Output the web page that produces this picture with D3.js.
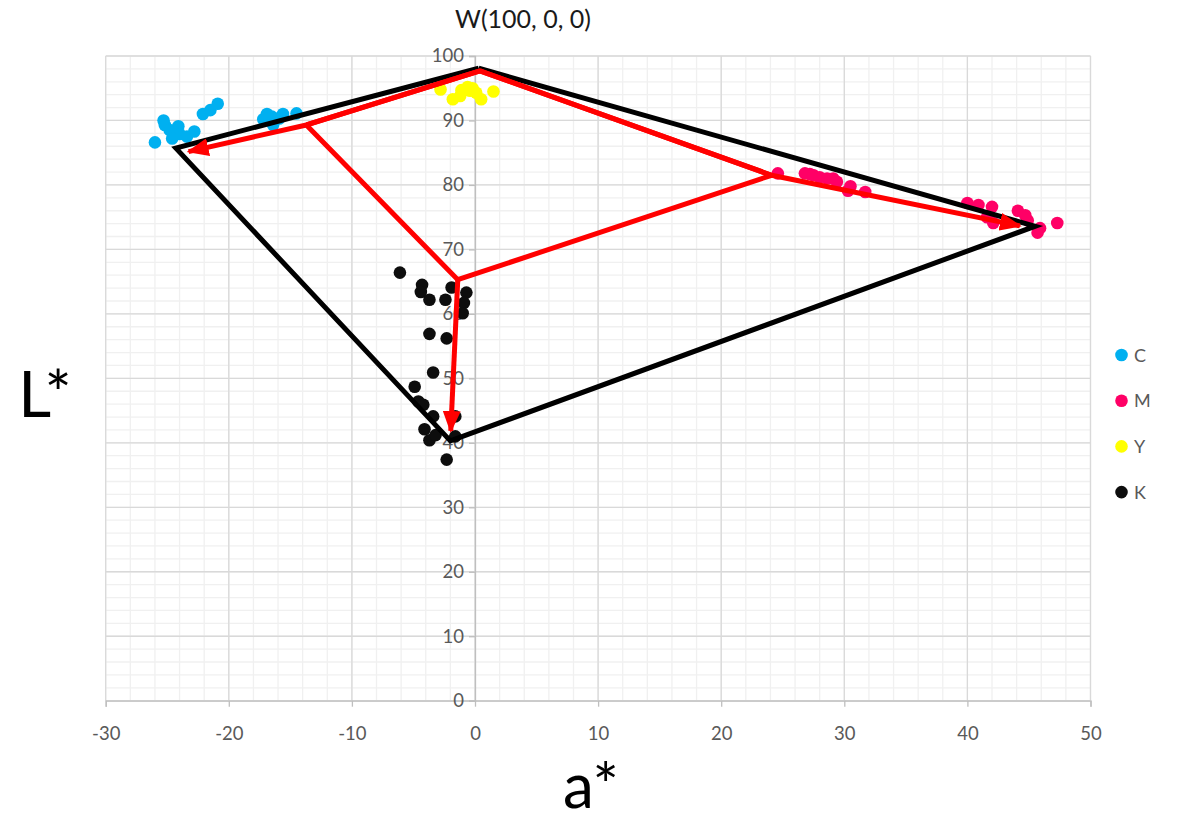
<!DOCTYPE html>
<html>
<head>
<meta charset="utf-8">
<script src="https://cdn.jsdelivr.net/npm/d3@7"></script>
<style>
  html, body { margin: 0; padding: 0; background: #fff; }
  svg { display: block; font-family: Lato, "Open Sans", sans-serif; }
</style>
</head>
<body>
<svg id="chart" width="1187" height="827"></svg>
<script>
// Measured samples, [a*, L*]
const cyan = [[-26.0,86.6],[-25.3,90.0],[-25.2,89.3],[-24.8,88.5],[-24.1,89.1],[-24.0,87.9],[-24.6,87.2],
  [-23.4,87.5],[-22.8,88.3],[-22.1,91.0],[-21.5,91.6],[-20.9,92.6],[-17.2,90.2],[-16.5,90.6],[-16.4,89.3],
  [-16.9,91.0],[-15.9,90.3],[-15.6,91.0],[-14.5,91.1]];
const magenta = [[24.6,81.8],[26.8,81.8],[27.2,81.7],[27.5,81.5],[28.0,81.2],[28.6,81.0],[29.1,81.0],
  [29.4,80.5],[30.5,79.8],[30.3,79.1],[31.7,78.9],[40.0,77.2],[40.9,76.9],[42.0,76.6],[42.1,74.1],
  [41.6,75.0],[44.1,76.0],[44.7,75.3],[44.9,74.5],[45.9,73.3],[45.7,72.6],[47.3,74.1]];
const yellow = [[-2.8,94.8],[-1.8,93.3],[-1.2,93.8],[-1.1,94.7],[-0.6,95.2],[-0.2,95.0],[0.1,94.3],
  [0.5,93.3],[1.5,94.5],[-0.4,94.6]];
const black = [[-6.1,66.4],[-4.3,64.5],[-4.4,63.4],[-3.7,62.2],[-2.4,62.2],[-1.9,64.1],[-0.7,63.3],
  [-0.9,61.7],[-1.0,60.1],[-3.7,56.9],[-2.3,56.2],[-3.4,50.9],[-4.9,48.7],[-4.6,46.4],[-4.2,45.9],
  [-3.4,44.1],[-1.6,44.1],[-4.1,42.1],[-3.7,40.4],[-3.2,41.2],[-1.6,41.0],[-2.3,37.4]];

const seriesNames = ["C", "M", "Y", "K"];
const seriesColors = ["#00B0F0", "#FF0066", "#FFFF00", "#0d0d0d"];
const seriesData = [cyan, magenta, yellow, black];

// Gamut outline: W -> M -> K -> C -> W
const gamut = [[0.3,98.1],[45.5,73.6],[-2.0,40.3],[-24.3,85.7],[0.3,98.1]];
// Hue paths from white, bending at the midtone patches
const arrowWC = [[0.4,97.7],[-13.7,89.3],[-23.9,84.9]];
const arrowWM = [[0.4,97.7],[24.1,81.5],[44.9,73.4]];
// Inner frame joining the midtone patches to the grey point
const frame = [[-13.7,89.3],[-1.4,65.3],[24.1,81.5]];
const arrowK = [[-1.4,65.3],[-2.0,40.6]];

const xTicks = [-30,-20,-10,0,10,20,30,40,50];
const yTicks = [0,10,20,30,40,50,60,70,80,90,100];

const svg = d3.select("#chart");
const x = d3.scaleLinear().domain([-30, 50]).range([105.7, 1090.5]);
const y = d3.scaleLinear().domain([0, 100]).range([700.7, 56]);

// Grid
const grid = svg.append("g");
grid.selectAll("line.vminor").data(d3.range(-30, 50.01, 2)).join("line")
  .attr("x1", d => x(d)).attr("x2", d => x(d)).attr("y1", y(0)).attr("y2", y(100))
  .attr("stroke", "#f0f0f0").attr("stroke-width", 1.3);
grid.selectAll("line.hminor").data(d3.range(0, 100.01, 2)).join("line")
  .attr("y1", d => y(d)).attr("y2", d => y(d)).attr("x1", x(-30)).attr("x2", x(50))
  .attr("stroke", "#f0f0f0").attr("stroke-width", 1.3);
grid.selectAll("line.vmajor").data(xTicks).join("line")
  .attr("x1", d => x(d)).attr("x2", d => x(d)).attr("y1", y(0)).attr("y2", y(100))
  .attr("stroke", "#d9d9d9").attr("stroke-width", 1.3);
grid.selectAll("line.hmajor").data(yTicks).join("line")
  .attr("y1", d => y(d)).attr("y2", d => y(d)).attr("x1", x(-30)).attr("x2", x(50))
  .attr("stroke", "#d9d9d9").attr("stroke-width", 1.3);

// Axes
const fmt = d => String(d);
const xAxis = svg.append("g").attr("transform", `translate(0,${y(0)})`)
  .call(d3.axisBottom(x).tickValues(xTicks).tickFormat(fmt).tickSize(6).tickPadding(20));
const yAxis = svg.append("g").attr("transform", `translate(${x(0)},0)`)
  .call(d3.axisLeft(y).tickValues(yTicks).tickFormat(fmt).tickSize(6).tickPadding(5));
[xAxis, yAxis].forEach(g => {
  g.select(".domain").attr("stroke", "#bfbfbf").attr("stroke-width", 1.3);
  g.selectAll(".tick line").attr("stroke", "#bfbfbf").attr("stroke-width", 1.3);
  g.selectAll(".tick text").attr("fill", "#595959").attr("font-size", 18.5)
    .attr("font-family", "Lato, 'Open Sans', sans-serif");
});

// Sample points
const pts = svg.append("g");
seriesData.forEach((data, i) => {
  pts.append("g").selectAll("circle").data(data).join("circle")
    .attr("cx", d => x(d[0])).attr("cy", d => y(d[1])).attr("r", 6.3)
    .attr("fill", seriesColors[i]);
});

// Arrowhead
svg.append("defs").append("marker")
  .attr("id", "arrowhead").attr("markerUnits", "userSpaceOnUse")
  .attr("viewBox", "0 0 22 18").attr("refX", 20).attr("refY", 9)
  .attr("markerWidth", 22).attr("markerHeight", 18).attr("orient", "auto")
  .append("path").attr("d", "M0,0 L22,9 L0,18 Z").attr("fill", "#ff0000");

const line = d3.line().x(d => x(d[0])).y(d => y(d[1]));

svg.append("path").attr("d", line(gamut)).attr("fill", "none")
  .attr("stroke", "#000").attr("stroke-width", 5).attr("stroke-linejoin", "miter");

const red = svg.append("g").attr("fill", "none").attr("stroke", "#ff0000")
  .attr("stroke-width", 5).attr("stroke-linejoin", "miter");
red.append("path").attr("d", line(frame));
// W joint shared by the two hue paths
red.append("path").attr("d", line([arrowWC[1], arrowWC[0], arrowWM[1]]));
[arrowWC, arrowWM, arrowK].forEach(seg => {
  // shorten the last leg so the stroke end stays inside the arrowhead
  const p = seg.map(d => [x(d[0]), y(d[1])]);
  const a = p[p.length - 2], b = p[p.length - 1];
  const dx = b[0] - a[0], dy = b[1] - a[1], len = Math.hypot(dx, dy);
  p[p.length - 1] = [a[0] + dx * (len - 8) / len, a[1] + dy * (len - 8) / len];
  red.append("path").attr("d", "M" + p.join("L")).attr("marker-end", "url(#arrowhead)");
});

// Title and axis titles
svg.append("text").attr("x", 523).attr("y", 28).attr("text-anchor", "middle")
  .attr("font-size", 25).attr("fill", "#1a1a1a").text("W(100, 0, 0)");
svg.append("text").attr("x", 45).attr("y", 417).attr("text-anchor", "middle")
  .attr("font-size", 64).attr("fill", "#000").text("L*");
svg.append("text").attr("x", 591).attr("y", 808).attr("text-anchor", "middle")
  .attr("font-size", 62).attr("fill", "#000").text("a*");

// Legend
const legend = svg.append("g");
seriesNames.forEach((name, i) => {
  const ly = 355 + i * 45.7;
  legend.append("circle").attr("cx", 1121.5).attr("cy", ly).attr("r", 6.3).attr("fill", seriesColors[i]);
  legend.append("text").attr("x", 1134).attr("y", ly + 6.5).attr("font-size", 18)
    .attr("fill", "#595959").text(name);
});
</script>
</body>
</html>
